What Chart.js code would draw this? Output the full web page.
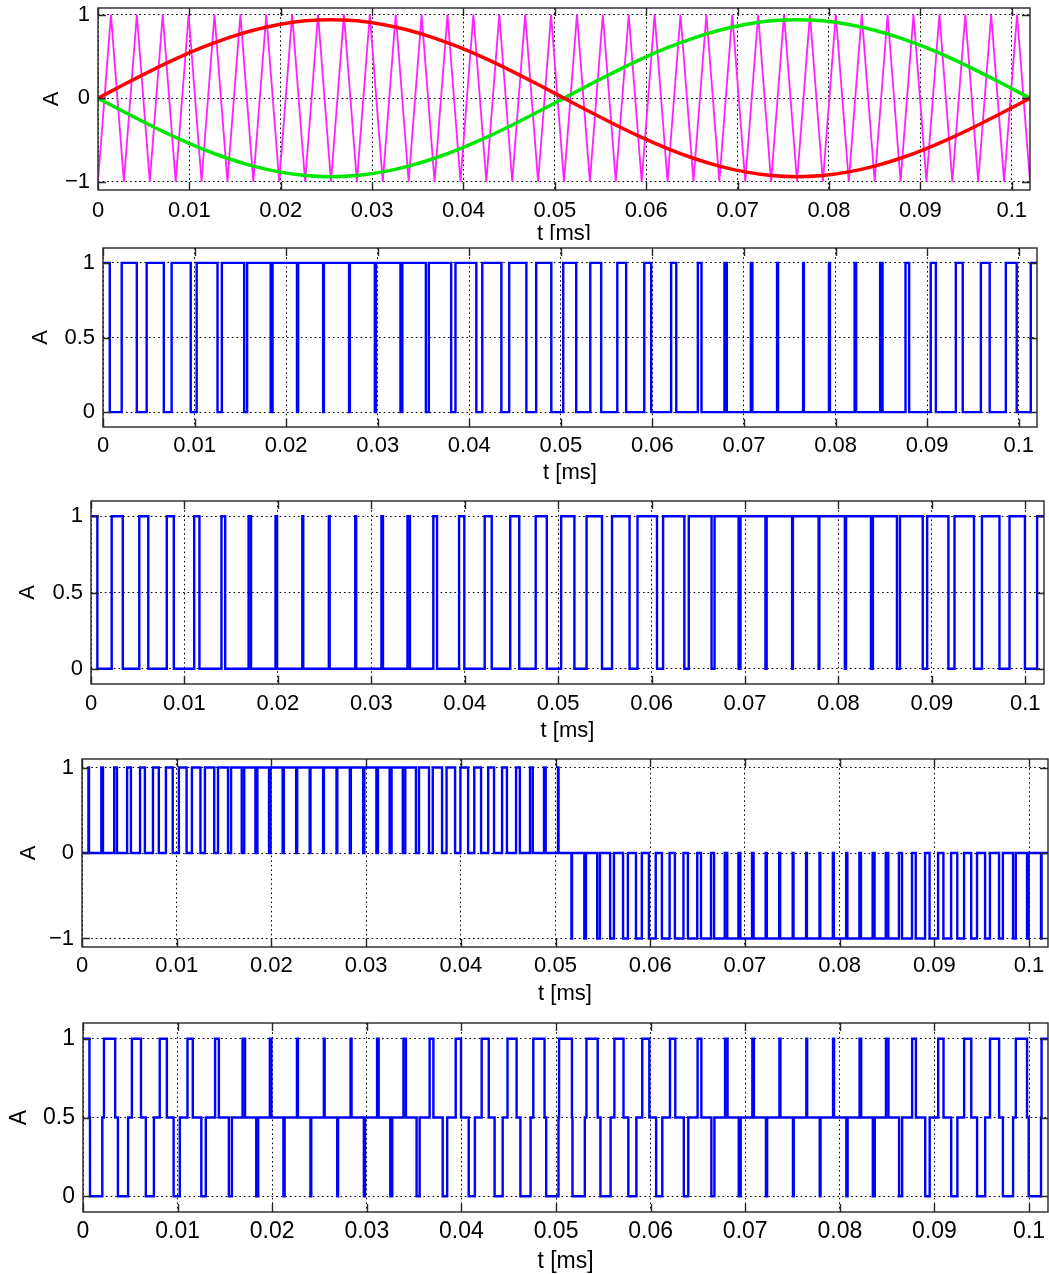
<!DOCTYPE html>
<html>
<head>
<meta charset="utf-8">
<title>Sinusoidal PWM</title>
<script src="https://cdn.jsdelivr.net/npm/chart.js@4.4.1/dist/chart.umd.min.js"></script>
<style>
  html, body { margin: 0; padding: 0; background: #fff; }
  #wrap { position: relative; width: 1049px; height: 1274px; overflow: hidden; background: #fff; }
  .panel { position: absolute; left: 0; width: 1049px; background: #fff; }
  .panel canvas { display: block; }
</style>
</head>
<body>
<div id="wrap"></div>
<script>
// ---- time axis (ms) ----
const xTickValues = [0, 0.01, 0.02, 0.03, 0.04, 0.05, 0.06, 0.07, 0.08, 0.09, 0.1];
const xTickLabels = ['0', '0.01', '0.02', '0.03', '0.04', '0.05', '0.06', '0.07', '0.08', '0.09', '0.1'];
const xMax = 0.102;

// ---- triangular carrier: valleys (-1) and crests (+1) ----
const carrierLow = -1;
const carrierHigh = 1;
const troughT = [0, 0.002833, 0.005667, 0.0085, 0.011333, 0.014167, 0.017, 0.019833, 0.022667, 0.0255,
  0.028333, 0.031167, 0.034, 0.036833, 0.039667, 0.0425, 0.045333, 0.048167, 0.051, 0.053833,
  0.056667, 0.0595, 0.062333, 0.065167, 0.068, 0.070833, 0.073667, 0.0765, 0.079333, 0.082167,
  0.085, 0.087833, 0.090667, 0.0935, 0.096333, 0.099167, 0.102];
const peakT = [0.001417, 0.00425, 0.007083, 0.009917, 0.01275, 0.015583, 0.018417, 0.02125, 0.024083,
  0.026917, 0.02975, 0.032583, 0.035417, 0.03825, 0.041083, 0.043917, 0.04675, 0.049583, 0.052417,
  0.05525, 0.058083, 0.060917, 0.06375, 0.066583, 0.069417, 0.07225, 0.075083, 0.077917, 0.08075,
  0.083583, 0.086417, 0.08925, 0.092083, 0.094917, 0.09775, 0.100583];

// ---- reference waveforms, sampled at the carrier valleys ----
const sineRed = [0, 0.163, 0.321, 0.47, 0.604, 0.72, 0.814, 0.883, 0.926, 0.94, 0.926, 0.883, 0.814,
  0.72, 0.604, 0.47, 0.321, 0.163, 0, -0.163, -0.321, -0.47, -0.604, -0.72, -0.814, -0.883, -0.926,
  -0.94, -0.926, -0.883, -0.814, -0.72, -0.604, -0.47, -0.321, -0.163, 0];
const sineGreen = [0, -0.163, -0.321, -0.47, -0.604, -0.72, -0.814, -0.883, -0.926, -0.94, -0.926,
  -0.883, -0.814, -0.72, -0.604, -0.47, -0.321, -0.163, 0, 0.163, 0.321, 0.47, 0.604, 0.72, 0.814,
  0.883, 0.926, 0.94, 0.926, 0.883, 0.814, 0.72, 0.604, 0.47, 0.321, 0.163, 0];

// ---- switching instants of leg A (red reference): on-time before / after each valley (ms) ----
const aLead = [0.000680, 0.000792, 0.000901, 0.001006, 0.001102, 0.001187, 0.001259, 0.001316, 0.001354,
  0.001374, 0.001374, 0.001353, 0.001312, 0.001251, 0.001173, 0.001080, 0.000974, 0.000859, 0.000739,
  0.000618, 0.000500, 0.000389, 0.000289, 0.000204, 0.000134, 0.000084, 0.000053, 0.000043, 0.000052,
  0.000082, 0.000129, 0.000193, 0.000272, 0.000363, 0.000463, 0.000570, 0.000680];
const aLag = [0.000739, 0.000859, 0.000974, 0.001080, 0.001173, 0.001251, 0.001312, 0.001353, 0.001374,
  0.001374, 0.001354, 0.001316, 0.001259, 0.001187, 0.001102, 0.001006, 0.000901, 0.000792, 0.000680,
  0.000570, 0.000463, 0.000363, 0.000272, 0.000193, 0.000129, 0.000082, 0.000052, 0.000043, 0.000053,
  0.000084, 0.000134, 0.000204, 0.000289, 0.000389, 0.000500, 0.000618, 0.000739];

// ---- switching instants of leg B (green reference) ----
const bLead = [0.000739, 0.000618, 0.000500, 0.000389, 0.000289, 0.000204, 0.000134, 0.000084, 0.000053,
  0.000043, 0.000052, 0.000082, 0.000129, 0.000193, 0.000272, 0.000363, 0.000463, 0.000570, 0.000680,
  0.000792, 0.000901, 0.001006, 0.001102, 0.001187, 0.001259, 0.001316, 0.001354, 0.001374, 0.001374,
  0.001353, 0.001312, 0.001251, 0.001173, 0.001080, 0.000974, 0.000859, 0.000739];
const bLag = [0.000680, 0.000570, 0.000463, 0.000363, 0.000272, 0.000193, 0.000129, 0.000082, 0.000052,
  0.000043, 0.000053, 0.000084, 0.000134, 0.000204, 0.000289, 0.000389, 0.000500, 0.000618, 0.000739,
  0.000859, 0.000974, 0.001080, 0.001173, 0.001251, 0.001312, 0.001353, 0.001374, 0.001374, 0.001354,
  0.001316, 0.001259, 0.001187, 0.001102, 0.001006, 0.000901, 0.000792, 0.000680];

// ---- y ticks ----
const yTicksBipolar = [-1, 0, 1];
const yLabelsBipolar = ['\u22121', '0', '1'];
const yTicksUnipolar = [0, 0.5, 1];
const yLabelsUnipolar = ['0', '0.5', '1'];

// ---- build point tables ----
const carrierPts = [];
troughT.forEach((t, i) => {
  carrierPts.push({ x: t, y: carrierLow });
  if (i < peakT.length) carrierPts.push({ x: peakT[i], y: carrierHigh });
});
const redPts = troughT.map((t, i) => ({ x: t, y: sineRed[i] }));
const greenPts = troughT.map((t, i) => ({ x: t, y: sineGreen[i] }));

function legSteps(lead, lag) {
  const pts = [];
  troughT.forEach((t, k) => {
    pts.push({ x: t - lead[k], y: 1 });
    pts.push({ x: t + lag[k], y: 0 });
  });
  return pts;
}
const legA = legSteps(aLead, aLag);
const legB = legSteps(bLead, bLag);

// combine both legs' switching events into one stepped trace
function combined(fn) {
  const ev = [];
  troughT.forEach((t, k) => {
    ev.push({ t: t - aLead[k], leg: 'a', v: 1 });
    ev.push({ t: t + aLag[k], leg: 'a', v: 0 });
    ev.push({ t: t - bLead[k], leg: 'b', v: 1 });
    ev.push({ t: t + bLag[k], leg: 'b', v: 0 });
  });
  ev.sort((p, q) => p.t - q.t);
  const st = { a: 0, b: 0 };
  const pts = [{ x: ev[0].t - 0.001, y: fn(0, 0) }];
  ev.forEach(e => {
    st[e.leg] = e.v;
    pts.push({ x: e.t, y: fn(st.a, st.b) });
  });
  return pts;
}
const lineVoltage = combined((a, b) => a - b);
const meanLevel = combined((a, b) => (a + b) / 2);

// ---- drawing ----
const FONT = "'Liberation Sans', Arial, Helvetica, sans-serif";
const BLUE = '#0000ff';

const frame = {
  id: 'frame',
  afterDraw(chart) {
    const { ctx, chartArea: a, scales: { x, y } } = chart;
    ctx.save();
    ctx.strokeStyle = '#262626';
    ctx.lineWidth = 1.4;
    ctx.strokeRect(a.left, a.top, a.right - a.left, a.bottom - a.top);
    ctx.beginPath();
    x.ticks.forEach(t => {
      const px = Math.round(x.getPixelForValue(t.value)) + 0.5;
      ctx.moveTo(px, a.top); ctx.lineTo(px, a.top + 8);
      ctx.moveTo(px, a.bottom); ctx.lineTo(px, a.bottom - 8);
    });
    y.ticks.forEach(t => {
      const py = Math.round(y.getPixelForValue(t.value)) + 0.5;
      ctx.moveTo(a.left, py); ctx.lineTo(a.left + 8, py);
      ctx.moveTo(a.right, py); ctx.lineTo(a.right - 8, py);
    });
    ctx.stroke();
    ctx.restore();
  }
};

function stepLine(points) {
  return { data: points, borderColor: BLUE, borderWidth: 2.4, pointRadius: 0, stepped: true, tension: 0 };
}

const panels = [
  { top: 0, height: 250, left: 98, right: 1030, boxTop: 8, boxBottom: 190, tickY: 211, titleY: 234,
    yTitleX: 52, size: 22, yMin: -1.1, yMax: 1.08, yTicks: yTicksBipolar, yLabels: yLabelsBipolar,
    datasets: [
      { data: redPts, borderColor: '#ff0000', borderWidth: 3.5, pointRadius: 0, cubicInterpolationMode: 'monotone' },
      { data: greenPts, borderColor: '#00e600', borderWidth: 3.5, pointRadius: 0, cubicInterpolationMode: 'monotone' },
      { data: carrierPts, borderColor: '#ff22ff', borderWidth: 1.8, pointRadius: 0, tension: 0 }
    ] },
  { top: 240, height: 250, left: 103, right: 1037, boxTop: 248, boxBottom: 427, tickY: 446, titleY: 473,
    yTitleX: 41, size: 22, yMin: -0.1, yMax: 1.1, yTicks: yTicksUnipolar, yLabels: yLabelsUnipolar,
    datasets: [stepLine(legA)] },
  { top: 490, height: 260, left: 91, right: 1044, boxTop: 501, boxBottom: 684, tickY: 704, titleY: 731,
    yTitleX: 28, size: 22, yMin: -0.1, yMax: 1.1, yTicks: yTicksUnipolar, yLabels: yLabelsUnipolar,
    datasets: [stepLine(legB)] },
  { top: 750, height: 262, left: 82, right: 1048, boxTop: 759, boxBottom: 947, tickY: 966, titleY: 994,
    yTitleX: 29, size: 22, yMin: -1.1, yMax: 1.1, yTicks: yTicksBipolar, yLabels: yLabelsBipolar,
    datasets: [stepLine(lineVoltage)] },
  { top: 1012, height: 270, left: 83, right: 1048, boxTop: 1023, boxBottom: 1212, tickY: 1232, titleY: 1262,
    yTitleX: 20, size: 23, yMin: -0.1, yMax: 1.1, yTicks: yTicksUnipolar, yLabels: yLabelsUnipolar,
    datasets: [stepLine(meanLevel)] }
];

const wrap = document.getElementById('wrap');

// keep tick labels from pushing the plot area inward
function noOverflow(s) {
  s.paddingTop = 0; s.paddingBottom = 0; s.paddingLeft = 0; s.paddingRight = 0;
}

panels.forEach(p => {
  const div = document.createElement('div');
  div.className = 'panel';
  div.style.top = p.top + 'px';
  div.style.height = p.height + 'px';
  const canvas = document.createElement('canvas');
  canvas.width = 1049;
  canvas.height = p.height;
  canvas.style.width = '1049px';
  canvas.style.height = p.height + 'px';
  div.appendChild(canvas);
  wrap.appendChild(div);

  const lh = p.size * 1.2;
  const font = { family: FONT, size: p.size };

  new Chart(canvas, {
    type: 'line',
    data: { datasets: p.datasets },
    options: {
      responsive: false,
      animation: false,
      devicePixelRatio: 1,
      events: [],
      layout: { padding: { left: 0, right: 1049 - p.right, top: p.boxTop - p.top, bottom: 0 } },
      plugins: { legend: { display: false }, tooltip: { enabled: false } },
      scales: {
        x: {
          type: 'linear',
          min: 0,
          max: xMax,
          afterFit: s => { s.height = p.height - (p.boxBottom - p.top); noOverflow(s); },
          afterBuildTicks: s => { s.ticks = xTickValues.map(v => ({ value: v })); },
          ticks: {
            autoSkip: false, maxRotation: 0, color: '#000', font,
            padding: p.tickY - p.boxBottom - lh / 2,
            callback: (v, i) => xTickLabels[i]
          },
          grid: { color: '#000', lineWidth: 1, drawTicks: false },
          border: { display: false, dash: [1.6, 3] },
          title: {
            display: true, text: 't [ms]', color: '#000', font,
            padding: { top: 0, bottom: p.height - (p.titleY - p.top) - lh / 2 }
          }
        },
        y: {
          type: 'linear',
          min: p.yMin,
          max: p.yMax,
          afterFit: s => { s.width = p.left; noOverflow(s); },
          afterBuildTicks: s => { s.ticks = p.yTicks.map(v => ({ value: v })); },
          ticks: {
            color: '#000', font, padding: 8,
            callback: (v, i) => p.yLabels[i]
          },
          grid: { color: '#000', lineWidth: 1, drawTicks: false },
          border: { display: false, dash: [1.6, 3] },
          title: {
            display: true, text: 'A', color: '#000', font,
            padding: { top: p.yTitleX - lh / 2, bottom: 0 }
          }
        }
      }
    },
    plugins: [frame]
  });
});
</script>
</body>
</html>
